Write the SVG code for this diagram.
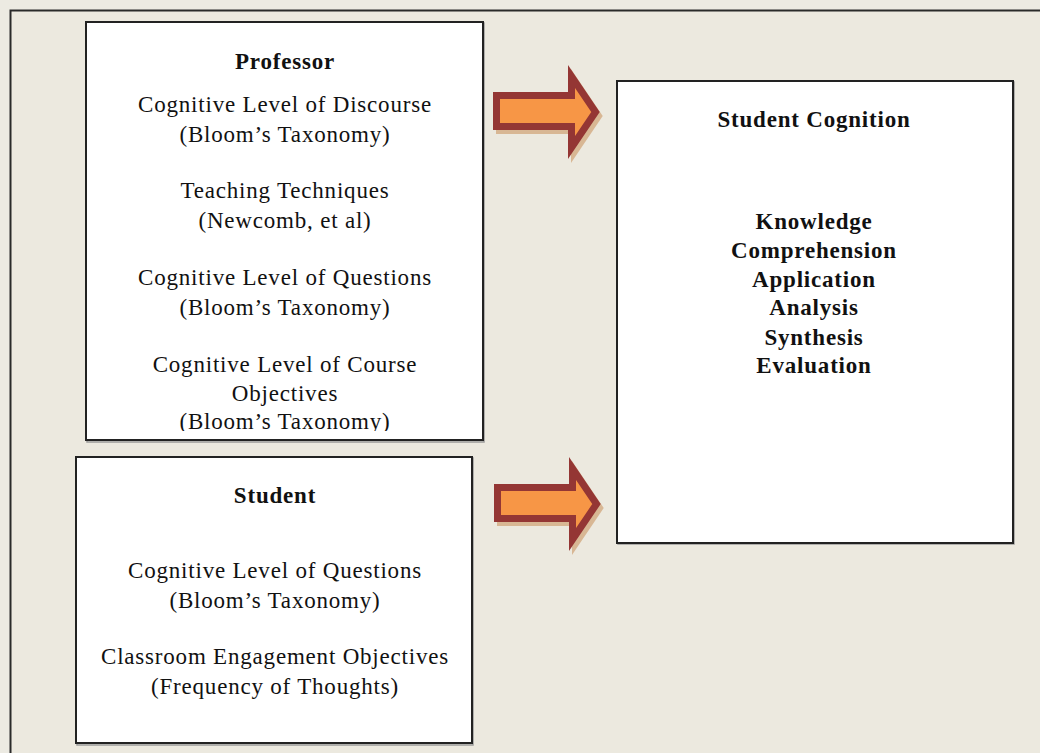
<svg xmlns="http://www.w3.org/2000/svg" width="1040" height="753" viewBox="0 0 1040 753">
<style>
.t{font-family:"Liberation Serif","Times New Roman",serif;font-size:23px;letter-spacing:0.8px;fill:#111;text-anchor:middle}
.b{font-weight:bold}
.box{fill:#fff;stroke:#222;stroke-width:2}
.shadow{fill:none;stroke:#9a9a9a;stroke-width:1.5}
.arrow{fill:#F79646;stroke:#943634;stroke-width:7;stroke-linejoin:miter}
.arrowsh{fill:#D2A77C;stroke:#D2A77C;stroke-width:7;opacity:0.75}
</style>
<defs>
<path id="arr" d="M496.5,95.5 H571.5 V76.5 L595.5,112 L571.5,147.5 V126.5 H496.5 Z"/>
<clipPath id="profclip"><rect x="87" y="23" width="395" height="408"/></clipPath>
</defs>
<rect x="0" y="0" width="1040" height="753" fill="#ECEAE2"/>
<rect x="10.5" y="10.5" width="1100" height="800" fill="#ECE9DF" stroke="#2a2a2a" stroke-width="2"/>

<g id="connectors">
<g id="arrow1">
<use href="#arr" class="arrowsh" transform="translate(3,4)"/>
<use href="#arr" class="arrow"/>
</g>
<g id="arrow2">
<use href="#arr" class="arrowsh" transform="translate(4,396)"/>
<use href="#arr" class="arrow" transform="translate(1,392)"/>
</g>
</g>

<g id="professor">
<rect x="87" y="23" width="397" height="419" class="shadow"/>
<rect x="86" y="22" width="397" height="418" class="box"/>
<g clip-path="url(#profclip)">
<text class="t b" x="285" y="69">Professor</text>
<text class="t" x="285" y="112">Cognitive Level of Discourse</text>
<text class="t" x="285" y="142">(Bloom’s Taxonomy)</text>
<text class="t" x="285" y="198">Teaching Techniques</text>
<text class="t" x="285" y="228">(Newcomb, et al)</text>
<text class="t" x="285" y="285">Cognitive Level of Questions</text>
<text class="t" x="285" y="315">(Bloom’s Taxonomy)</text>
<text class="t" x="285" y="372">Cognitive Level of Course</text>
<text class="t" x="285" y="401">Objectives</text>
<text class="t" x="285" y="429">(Bloom’s Taxonomy)</text>
</g>
</g>

<g id="student">
<rect x="77" y="458" width="396" height="287" class="shadow"/>
<rect x="76" y="457" width="396" height="286" class="box"/>
<text class="t b" x="275" y="503">Student</text>
<text class="t" x="275" y="578">Cognitive Level of Questions</text>
<text class="t" x="275" y="608">(Bloom’s Taxonomy)</text>
<text class="t" x="275" y="664">Classroom Engagement Objectives</text>
<text class="t" x="275" y="694">(Frequency of Thoughts)</text>
</g>

<g id="student-cognition">
<rect x="618" y="82" width="396" height="462" class="shadow"/>
<rect x="617" y="81" width="396" height="462" class="box"/>
<text class="t b" x="814" y="127">Student Cognition</text>
<text class="t b" x="814" y="229">Knowledge</text>
<text class="t b" x="814" y="258">Comprehension</text>
<text class="t b" x="814" y="287">Application</text>
<text class="t b" x="814" y="315">Analysis</text>
<text class="t b" x="814" y="345">Synthesis</text>
<text class="t b" x="814" y="373">Evaluation</text>
</g>
</svg>
